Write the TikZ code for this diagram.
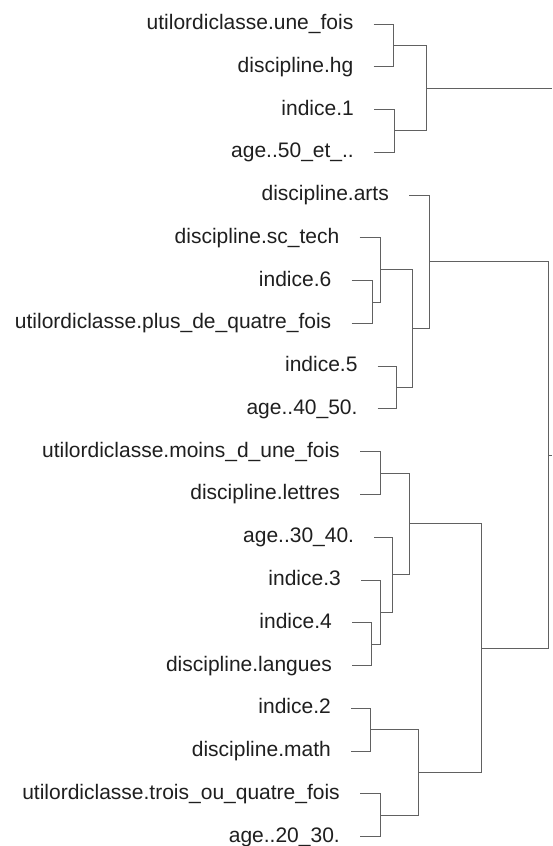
\documentclass[tikz,border=0pt]{standalone}
\usepackage{fontspec}
\setmainfont{Liberation Sans}
\usetikzlibrary{calc}
\newcommand\leafnode[4]{%
  \coordinate (#1) at (#3, {24+(#2-1)*42.77});
  \node[lab] (#1t) at ([xshift=-20pt,yshift=-5.5pt]#1) {#4};
}
\newcommand\mergenode[4]{%
  \path (#3) -- (#4) coordinate[pos=0.5] (#1m);
  \coordinate (#1) at (#2,0 |- #1m);
  \draw[branch] (#3) -| (#1);
  \draw[branch] (#4) -| (#1);
}
\begin{document}
\begin{tikzpicture}[x=1pt,y=-1pt,
  lab/.style={font=\fontsize{21}{25}\selectfont, text=black!88, inner sep=0pt, anchor=base east},
  branch/.style={draw=black!62, line width=0.9pt}]
\fill[white] (0,0) rectangle (552,846);
\useasboundingbox (0,0) rectangle (552,846);
% leaves
\leafnode{L1}{1}{373.5}{utilordiclasse.une\_fois}
\leafnode{L2}{2}{373.5}{discipline.hg}
\leafnode{L3}{3}{374}{indice.1}
\leafnode{L4}{4}{374}{age..50\_et\_..}
\leafnode{L5}{5}{409}{discipline.arts}
\leafnode{L6}{6}{359.5}{discipline.sc\_tech}
\leafnode{L7}{7}{351.5}{indice.6}
\leafnode{L8}{8}{351.5}{utilordiclasse.plus\_de\_quatre\_fois}
\leafnode{L9}{9}{377.7}{indice.5}
\leafnode{L10}{10}{377.7}{age..40\_50.}
\leafnode{L11}{11}{360}{utilordiclasse.moins\_d\_une\_fois}
\leafnode{L12}{12}{360}{discipline.lettres}
\leafnode{L13}{13}{374.3}{age..30\_40.}
\leafnode{L14}{14}{361}{indice.3}
\leafnode{L15}{15}{352}{indice.4}
\leafnode{L16}{16}{352}{discipline.langues}
\leafnode{L17}{17}{351}{indice.2}
\leafnode{L18}{18}{351}{discipline.math}
\leafnode{L19}{19}{360}{utilordiclasse.trois\_ou\_quatre\_fois}
\leafnode{L20}{20}{360}{age..20\_30.}
% merges, top cluster
\mergenode{A}{393.3}{L1}{L2}
\mergenode{C}{394}{L3}{L4}
\mergenode{B}{426.7}{A}{C}
\coordinate (rootT) at (552,0 |- B);
\draw[branch] (B) -- (rootT);
% second cluster
\mergenode{D}{372.3}{L7}{L8}
\mergenode{E}{380}{L6}{D}
\mergenode{H}{396.7}{L9}{L10}
\mergenode{F}{412.7}{E}{H}
\mergenode{G}{429}{L5}{F}
% third cluster
\mergenode{I}{380}{L11}{L12}
\mergenode{N}{371}{L15}{L16}
\mergenode{J}{380}{L14}{N}
\mergenode{K}{392.7}{L13}{J}
\mergenode{M}{409.3}{I}{K}
\mergenode{O}{370.7}{L17}{L18}
\mergenode{S}{380}{L19}{L20}
\mergenode{P}{418.3}{O}{S}
\mergenode{Q}{481}{M}{P}
\mergenode{R}{548.7}{G}{Q}
\coordinate (rootB) at (552,0 |- R);
\draw[branch] (R) -- (rootB);
\end{tikzpicture}
\end{document}
